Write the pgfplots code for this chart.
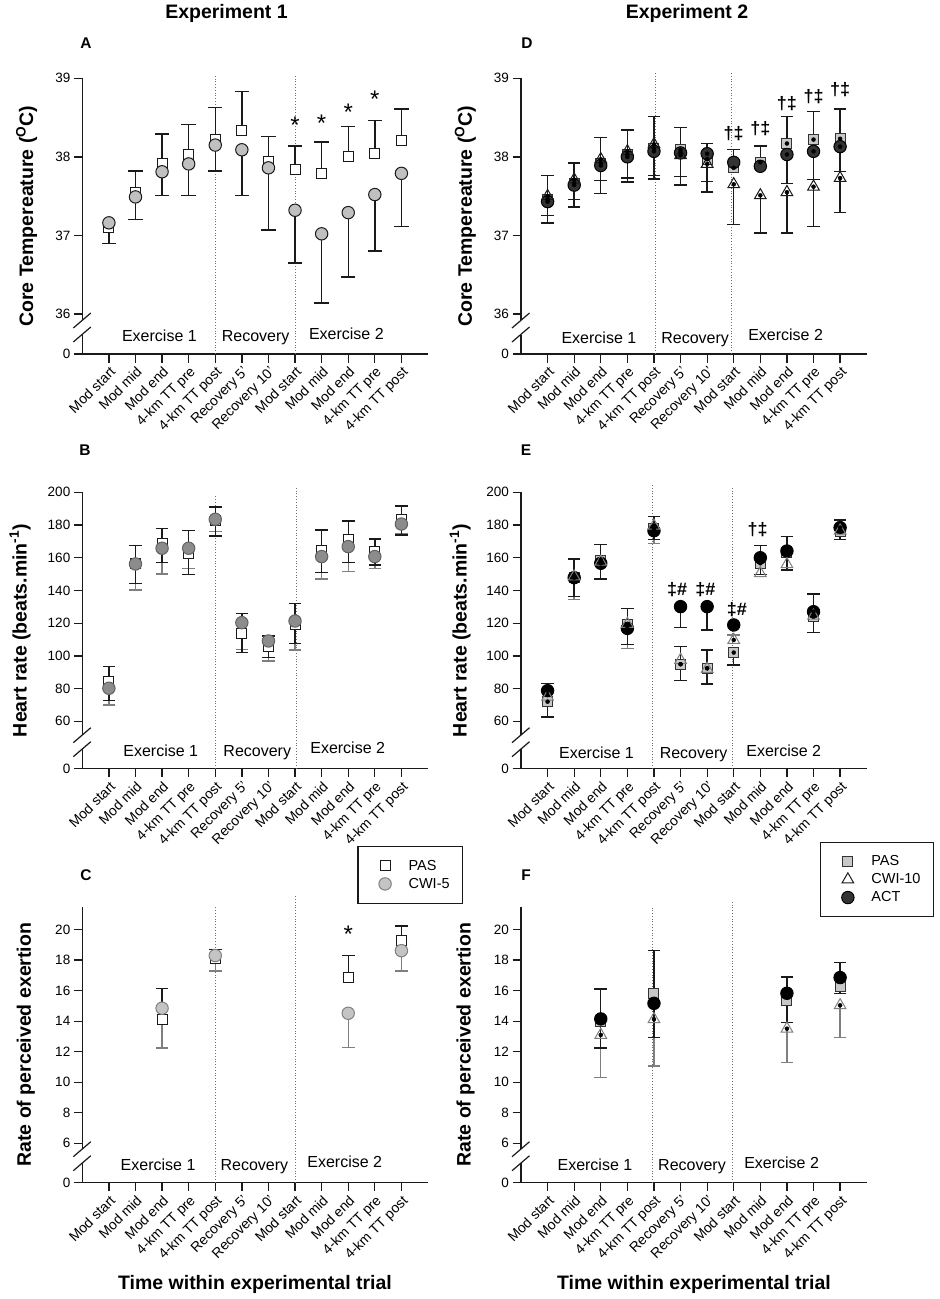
\documentclass[border=0pt]{standalone}
\usepackage{fontspec}
\setmainfont{Liberation Sans}
\usepackage{pgfplots}
\pgfplotsset{compat=1.18}

\definecolor{axcol}{HTML}{1A1A1A}
\definecolor{cwiAf}{HTML}{C0C0C0}
\definecolor{cwiBf}{HTML}{8C8C8C}
\definecolor{cwiCf}{HTML}{C4C4C4}
\definecolor{pasDf}{HTML}{C8C8C8}
\definecolor{actDf}{HTML}{333333}
\definecolor{ebgray}{HTML}{7F7F7F}
\definecolor{dotcol}{HTML}{6E6E6E}

\newcommand\tickfont{\fontsize{13.5}{15}\selectfont}
\newcommand\xtickfont{\fontsize{14}{16}\selectfont}
\newcommand\labfont{\bfseries\fontsize{19.5}{22}\selectfont}
\newcommand\secfont{\fontsize{16}{18}\selectfont}
\newcommand\letfont{\bfseries\fontsize{15.5}{17}\selectfont}
\newcommand\legfont{\fontsize{14.5}{16}\selectfont}
\newcommand\symfont{\bfseries\fontsize{18}{20}\selectfont}
\newcommand\astfont{\fontsize{24}{26}\selectfont}

\tikzset{dotline/.style={draw=dotcol, line width=1pt, dash pattern=on 1pt off 1.8pt}}

\pgfplotsset{
  panel/.style={
    scale only axis, width=345.7pt, xmin=-1, xmax=12, anchor=south west,
    axis x line=bottom, axis y line=left,
    axis line style={-, line width=1.3pt, draw=axcol},
    x axis line style={-}, y axis line style={-},
    tick align=outside, major tick length=8.5pt,
    tick style={line width=1.3pt, draw=axcol},
    xtick={0,...,11},
    xticklabels={Mod start,Mod mid,Mod end,4-km TT pre,4-km TT post,Recovery 5',Recovery 10',Mod start,Mod mid,Mod end,4-km TT pre,4-km TT post},
    xticklabel style={rotate=45, anchor=north east, font=\xtickfont, inner sep=2pt},
    yticklabel style={font=\tickfont},
    /pgf/number format/assume math mode=true,
    clip=false,
    ylabel style={at={(axis description cs:-0.161,0.5)}, anchor=center, font=\labfont},
    legend image code/.code={\path[draw=none,fill=none] (0pt,-5pt) rectangle (26pt,5pt); \draw[##1] plot coordinates {(16pt,0pt)};},
  },
  ebup/.style 2 args={only marks, mark=none, forget plot, error bars/.cd, y dir=plus, y explicit,
     error bar style={line width=1.4pt, draw=#1, solid},
     error mark options={rotate=90, mark size=#2, line width=1.4pt, draw=#1, solid}},
  ebdn/.style 2 args={only marks, mark=none, forget plot, error bars/.cd, y dir=minus, y explicit,
     error bar style={line width=1.4pt, draw=#1, solid},
     error mark options={rotate=90, mark size=#2, line width=1.4pt, draw=#1, solid}},
  pasA/.style={only marks, mark=square*, mark size=5pt, mark options={fill=white, draw=axcol, line width=1pt, solid}},
  cwiA/.style={only marks, mark=*, mark size=6.2pt, mark options={fill=cwiAf, draw=axcol, line width=1pt, solid}},
  cwiB/.style={only marks, mark=*, mark size=6.2pt, mark options={fill=cwiBf, draw=cwiBf!70!black, line width=1pt, solid}},
  cwiC/.style={only marks, mark=*, mark size=6.2pt, mark options={fill=cwiCf, draw=gray, line width=1pt, solid}},
  pasD/.style={only marks, mark=square*, mark size=5pt, mark options={fill=pasDf, draw=actDf, line width=1pt, solid}},
  cwiD/.style={only marks, mark=triangle, mark size=6.7pt, mark options={draw=axcol, line width=1pt, solid}},
  cwiE/.style={only marks, mark=triangle, mark size=6.7pt, mark options={draw=gray, line width=1pt, solid}},
  actD/.style={only marks, mark=*, mark size=6.2pt, mark options={fill=actDf, draw=black, line width=1pt, solid}},
  actE/.style={only marks, mark=*, mark size=6.2pt, mark options={fill=black, draw=black, line width=1pt, solid}},
  legC/.style={legend style={anchor=north east, draw=axcol, line width=1.2pt, fill=white,
     inner xsep=11pt, inner ysep=11.5pt, row sep=2.4pt, column sep=11.5pt, font=\legfont, cells={anchor=west}}},
}

\newcommand\brk[1]{%
  \fill[white] ([shift={(-3pt,19.5pt)}]#1.south west) rectangle ([shift={(3pt,33.8pt)}]#1.south west);
  \draw[axcol, line width=1.2pt] ([shift={(-9pt,26pt)}]#1.south west) -- ([shift={(8.5pt,41pt)}]#1.south west);
  \draw[axcol, line width=1.2pt] ([shift={(-9pt,12pt)}]#1.south west) -- ([shift={(8.5pt,27pt)}]#1.south west);
}

\begin{document}
\begin{tikzpicture}
\path[use as bounding box] (0pt,0pt) rectangle (940pt,-1299pt);
\fill[white] (0pt,0pt) rectangle (940pt,-1299pt);

% titles and letters
\node[font=\labfont] at (226.5pt,-13pt) {Experiment 1};
\node[font=\labfont] at (687pt,-13pt) {Experiment 2};
\node[font=\letfont] at (86pt,-43pt) {A};
\node[font=\letfont] at (527pt,-43pt) {D};
\node[font=\letfont] at (85pt,-450pt) {B};
\node[font=\letfont] at (526pt,-450pt) {E};
\node[font=\letfont] at (86pt,-875pt) {C};
\node[font=\letfont] at (526pt,-875pt) {F};
\node[font=\labfont] at (255pt,-1284pt) {Time within experimental trial};
\node[font=\labfont] at (694pt,-1284pt) {Time within experimental trial};

% ================= A =================
\begin{axis}[panel, name=A, at={(82.3pt,-354pt)}, height=275.7pt,
  ymin=35.49, ymax=39, ytick={35.49,36,37,38,39}, yticklabels={0,36,37,38,39},
  ylabel={Core Tempereature (\textsuperscript{O}C)}]
\draw[dotline] (axis cs:4,35.49) -- (axis cs:4,39.03);
\draw[dotline] (axis cs:7,35.49) -- (axis cs:7,39.03);
\addplot[ebup={axcol}{7.2pt}] coordinates {(1,37.54) +- (0,0.28) (2,37.91) +- (0,0.38) (3,38.03) +- (0,0.38) (4,38.22) +- (0,0.41) (5,38.34) +- (0,0.49) (6,37.94) +- (0,0.32) (7,37.84) +- (0,0.30) (8,37.79) +- (0,0.40) (9,38.00) +- (0,0.39) (10,38.04) +- (0,0.42) (11,38.21) +- (0,0.40)};
\addplot[ebdn={axcol}{7.2pt}] coordinates {(0,37.16) +- (0,0.26) (1,37.49) +- (0,0.29) (2,37.81) +- (0,0.30) (3,37.91) +- (0,0.40) (4,38.15) +- (0,0.33) (5,38.09) +- (0,0.58) (6,37.86) +- (0,0.79) (7,37.32) +- (0,0.67) (8,37.02) +- (0,0.88) (9,37.29) +- (0,0.82) (10,37.52) +- (0,0.72) (11,37.79) +- (0,0.68)};
\addplot[pasA] coordinates {(0,37.10) (1,37.54) (2,37.91) (3,38.03) (4,38.22) (5,38.34) (6,37.94) (7,37.84) (8,37.79) (9,38.00) (10,38.04) (11,38.21)};
\addplot[cwiA] coordinates {(0,37.16) (1,37.49) (2,37.81) (3,37.91) (4,38.15) (5,38.09) (6,37.86) (7,37.32) (8,37.02) (9,37.29) (10,37.52) (11,37.79)};
\node[font=\secfont, anchor=base] at (axis cs:1.9,35.65) {Exercise 1};
\node[font=\secfont, anchor=base] at (axis cs:5.52,35.65) {Recovery};
\node[font=\secfont, anchor=base] at (axis cs:8.93,35.68) {Exercise 2};
\node[font=\astfont, anchor=north, inner sep=0pt] at (axis cs:7,38.51) {*};
\node[font=\astfont, anchor=north, inner sep=0pt] at (axis cs:8,38.54) {*};
\node[font=\astfont, anchor=north, inner sep=0pt] at (axis cs:9,38.67) {*};
\node[font=\astfont, anchor=north, inner sep=0pt] at (axis cs:10,38.84) {*};
\end{axis}
\brk{A}

% ================= D =================
\begin{axis}[panel, name=D, at={(521pt,-354pt)}, height=275.7pt,
  ymin=35.49, ymax=39, ytick={35.49,36,37,38,39}, yticklabels={0,36,37,38,39},
  ylabel={Core Tempereature (\textsuperscript{O}C)}]
\draw[dotline] (axis cs:4.07,35.49) -- (axis cs:4.07,39.07);
\draw[dotline] (axis cs:6.9,35.49) -- (axis cs:6.9,39.07);
\addplot[pasD] coordinates {(0,37.46) (1,37.66) (2,37.92) (3,38.03) (4,38.11) (5,38.09) (6,37.97) (7,37.86) (8,37.93) (9,38.17) (10,38.22) (11,38.23)};
\addplot[actD] coordinates {(0,37.43) (1,37.64) (2,37.89) (3,38.00) (4,38.07) (5,38.05) (6,38.04) (7,37.93) (8,37.88) (9,38.03) (10,38.07) (11,38.13)};
\addplot[cwiD] coordinates {(0,37.50) (1,37.71) (2,37.97) (3,38.07) (4,38.16) (5,38.02) (6,37.91) (7,37.65) (8,37.51) (9,37.55) (10,37.62) (11,37.73)};
\addplot[ebup={axcol}{6.3pt}] coordinates {(0,37.46) +- (0,0.30) (1,37.66) +- (0,0.26) (2,37.92) +- (0,0.33) (3,38.03) +- (0,0.31) (4,38.11) +- (0,0.40) (5,38.09) +- (0,0.28) (6,37.97) +- (0,0.20) (7,37.86) +- (0,0.23) (8,37.93) +- (0,0.21) (9,38.17) +- (0,0.34) (10,38.22) +- (0,0.36) (11,38.23) +- (0,0.38)};
\addplot[ebdn={axcol}{6.3pt}] coordinates {(0,37.43) +- (0,0.18) (1,37.64) +- (0,0.18) (2,37.89) +- (0,0.19) (3,38.00) +- (0,0.27) (4,38.07) +- (0,0.31) (5,38.05) +- (0,0.30) (6,38.04) +- (0,0.35) (9,38.03) +- (0,0.37) (10,38.07) +- (0,0.36) (11,38.13) +- (0,0.32)};
\addplot[ebdn={axcol}{6.3pt}] coordinates {(0,37.50) +- (0,0.34) (1,37.71) +- (0,0.35) (2,37.97) +- (0,0.44) (3,38.07) +- (0,0.39) (4,38.16) +- (0,0.44) (5,38.02) +- (0,0.38) (6,37.91) +- (0,0.36) (7,37.65) +- (0,0.51) (8,37.51) +- (0,0.48) (9,37.55) +- (0,0.52) (10,37.62) +- (0,0.51) (11,37.73) +- (0,0.44)};
\node[font=\secfont, anchor=base] at (axis cs:1.93,35.625) {Exercise 1};
\node[font=\secfont, anchor=base] at (axis cs:5.55,35.625) {Recovery};
\node[font=\secfont, anchor=base] at (axis cs:8.95,35.66) {Exercise 2};
\node[font=\symfont, inner sep=0pt] at (axis cs:7,38.30) {†‡};
\node[font=\symfont, inner sep=0pt] at (axis cs:8,38.36) {†‡};
\node[font=\symfont, inner sep=0pt] at (axis cs:9,38.68) {†‡};
\node[font=\symfont, inner sep=0pt] at (axis cs:10,38.77) {†‡};
\node[font=\symfont, inner sep=0pt] at (axis cs:11,38.85) {†‡};
\end{axis}
\brk{D}

% ================= B =================
\begin{axis}[panel, name=B, at={(82.3pt,-768.7pt)}, height=276.4pt,
  ymin=31, ymax=200, ytick={31,60,80,100,120,140,160,180,200}, yticklabels={0,60,80,100,120,140,160,180,200},
  ylabel={Heart rate (beats.min\textsuperscript{-1})}, ylabel style={at={(axis description cs:-0.18,0.5)}}]
\draw[dotline] (axis cs:4,31) -- (axis cs:4,198.3);
\draw[dotline] (axis cs:7.05,31) -- (axis cs:7.05,202.4);
\addplot[ebup={axcol}{6.3pt}] coordinates {(0,84.2) +- (0,9.2) (1,156.6) +- (0,10.8) (2,168.8) +- (0,9.2) (3,162.7) +- (0,13.9) (4,182.7) +- (0,8.3) (5,113.8) +- (0,12.2) (6,105.6) +- (0,6.6) (7,118.9) +- (0,13.2) (8,164.7) +- (0,12.3) (9,170.9) +- (0,11.6) (10,163.7) +- (0,7.8) (11,183.1) +- (0,8.5)};
\addplot[ebdn={ebgray}{6.3pt}] coordinates {(0,80.2) +- (0,10.2) (1,156.2) +- (0,15.9) (2,165.8) +- (0,15.7) (3,165.8) +- (0,12.3) (4,183.5) +- (0,7.5) (5,120.3) +- (0,16.3) (6,109.1) +- (0,12.2) (7,121.3) +- (0,17.7) (8,160.7) +- (0,13.7) (9,166.8) +- (0,15.3) (10,160.7) +- (0,7.2) (11,180.6) +- (0,6.1)};
\addplot[ebdn={axcol}{6.3pt}] coordinates {(0,84.2) +- (0,11.6) (1,156.6) +- (0,12.2) (2,168.8) +- (0,11.8) (3,162.7) +- (0,12.8) (4,182.7) +- (0,9.4) (5,113.8) +- (0,11.8) (6,105.6) +- (0,6.7) (7,118.9) +- (0,11.2) (8,164.7) +- (0,13.8) (9,170.9) +- (0,13.7) (10,163.7) +- (0,8.1) (11,183.1) +- (0,9.2)};
\addplot[pasA] coordinates {(0,84.2) (1,156.6) (2,168.8) (3,162.7) (4,182.7) (5,113.8) (6,105.6) (7,118.9) (8,164.7) (9,170.9) (10,163.7) (11,183.1)};
\addplot[cwiB] coordinates {(0,80.2) (1,156.2) (2,165.8) (3,165.8) (4,183.5) (5,120.3) (6,109.1) (7,121.3) (8,160.7) (9,166.8) (10,160.7) (11,180.6)};
\node[font=\secfont, anchor=base] at (axis cs:1.95,38.5) {Exercise 1};
\node[font=\secfont, anchor=base] at (axis cs:5.58,38.5) {Recovery};
\node[font=\secfont, anchor=base] at (axis cs:8.98,40.0) {Exercise 2};
\end{axis}
\brk{B}

% ================= E =================
\begin{axis}[panel, name=E, at={(521pt,-768.7pt)}, height=276.4pt,
  ymin=31, ymax=200, ytick={31,60,80,100,120,140,160,180,200}, yticklabels={0,60,80,100,120,140,160,180,200},
  ylabel={Heart rate (beats.min\textsuperscript{-1})}, ylabel style={at={(axis description cs:-0.176,0.5)}}]
\draw[dotline] (axis cs:3.94,31) -- (axis cs:3.94,205.5);
\draw[dotline] (axis cs:6.95,31) -- (axis cs:6.95,203.4);
\addplot[pasD] coordinates {(0,72.0) (1,148.0) (2,158.6) (3,118.9) (4,178.0) (5,94.9) (6,92.4) (7,102.0) (8,156.6) (9,163.5) (10,124.0) (11,176.0)};
\addplot[actE] coordinates {(0,78.7) (1,147.8) (2,156.6) (3,116.8) (4,176.5) (5,130.1) (6,130.1) (7,118.9) (8,160.0) (9,164.1) (10,127.0) (11,178.4)};
\addplot[cwiE] coordinates {(0,75.0) (1,148.5) (2,157.5) (3,119.5) (4,179.5) (5,97.5) (6,92.0) (7,109.7) (8,150.5) (9,156.0) (10,124.5) (11,176.5)};
\addplot[ebdn={ebgray}{6.3pt}] coordinates {(1,148.5) +- (0,13.9) (3,119.5) +- (0,14.9) (4,179.5) +- (0,10.7)};
\addplot[ebup={ebgray}{6.3pt}] coordinates {(7,109.7) +- (0,3.1)};
\addplot[ebup={axcol}{6.3pt}] coordinates {(0,78.7) +- (0,4.5) (1,147.8) +- (0,11.4) (2,156.6) +- (0,11.6) (3,116.8) +- (0,12.3) (4,176.5) +- (0,8.6) (8,160.0) +- (0,7.4) (9,164.1) +- (0,8.8) (10,127.0) +- (0,10.8) (11,178.4) +- (0,4.7)};
\addplot[ebdn={axcol}{6.3pt}] coordinates {(5,130.1) +- (0,12.6) (6,130.1) +- (0,14.3)};
\addplot[ebup={axcol}{6.3pt}] coordinates {(5,94.9) +- (0,10.7) (6,92.4) +- (0,11.2)};
\addplot[ebdn={axcol}{6.3pt}] coordinates {(0,72.0) +- (0,9.5) (1,148.0) +- (0,11.8) (2,158.6) +- (0,11.6) (3,118.9) +- (0,11.9) (4,178.0) +- (0,6.7) (5,94.9) +- (0,10.1) (6,92.4) +- (0,9.6) (7,102.0) +- (0,7.5) (8,156.6) +- (0,6.7) (9,163.5) +- (0,11.0) (10,124.0) +- (0,9.8) (11,176.0) +- (0,4.7)};
\node[font=\secfont, anchor=base] at (axis cs:1.84,37.3) {Exercise 1};
\node[font=\secfont, anchor=base] at (axis cs:5.49,37.3) {Recovery};
\node[font=\secfont, anchor=base] at (axis cs:8.88,38.5) {Exercise 2};
\node[font=\symfont, inner sep=0pt] at (axis cs:4.87,140.7) {‡\#};
\node[font=\symfont, inner sep=0pt] at (axis cs:5.93,140.7) {‡\#};
\node[font=\symfont, inner sep=0pt] at (axis cs:7.12,128.5) {‡\#};
\node[font=\symfont, inner sep=0pt] at (axis cs:7.9,177.4) {†‡};
\end{axis}
\brk{E}

% ================= C =================
\begin{axis}[panel, name=C, at={(82.3pt,-1182.7pt)}, height=276pt,
  ymin=3.42, ymax=21.5, ytick={3.42,6,8,10,12,14,16,18,20}, yticklabels={0,6,8,10,12,14,16,18,20},
  ylabel={Rate of perceived exertion}, ylabel style={at={(axis description cs:-0.163,0.5)}},
  legC, legend style={at={(axis description cs:1.102,1.22)}}]
\draw[dotline] (axis cs:4,3.42) -- (axis cs:4,21.5);
\draw[dotline] (axis cs:7,3.42) -- (axis cs:7,22.27);
\addplot[ebup={axcol}{6.3pt}] coordinates {(2,14.13) +- (0,2.00) (4,18.12) +- (0,0.59) (9,16.86) +- (0,1.44) (11,19.26) +- (0,0.98)};
\addplot[ebdn={ebgray}{6.3pt}] coordinates {(2,14.85) +- (0,2.60) (4,18.30) +- (0,1.01) (9,14.52) +- (0,2.23) (11,18.62) +- (0,1.33)};
\addplot[pasA] coordinates {(2,14.13) (4,18.12) (9,16.86) (11,19.26)};
\addlegendentry{PAS}
\addplot[cwiC] coordinates {(2,14.85) (4,18.30) (9,14.52) (11,18.62)};
\addlegendentry{CWI-5}
\node[font=\secfont, anchor=base] at (axis cs:1.85,4.23) {Exercise 1};
\node[font=\secfont, anchor=base] at (axis cs:5.47,4.23) {Recovery};
\node[font=\secfont, anchor=base] at (axis cs:8.87,4.39) {Exercise 2};
\node[font=\astfont, anchor=north, inner sep=0pt] at (axis cs:9,20.24) {*};
\end{axis}
\brk{C}

% ================= F =================
\begin{axis}[panel, name=F, at={(521pt,-1182.7pt)}, height=276pt,
  ymin=3.42, ymax=21.5, ytick={3.42,6,8,10,12,14,16,18,20}, yticklabels={0,6,8,10,12,14,16,18,20},
  ylabel={Rate of perceived exertion}, ylabel style={at={(axis description cs:-0.16,0.5)}},
  legC, legend style={at={(axis description cs:1.195,1.236)}}]
\draw[dotline] (axis cs:3.94,3.42) -- (axis cs:3.94,21.44);
\draw[dotline] (axis cs:6.97,3.42) -- (axis cs:6.97,21.87);
\addplot[pasD, forget plot] coordinates {(2,13.97) (4,15.79) (9,15.33) (11,16.27)};
\addplot[actE, forget plot] coordinates {(2,14.15) (4,15.17) (9,15.83) (11,16.86)};
\addplot[cwiE, forget plot] coordinates {(2,13.10) (4,14.13) (9,13.51) (11,15.04)};
\addplot[ebdn={ebgray}{6.3pt}] coordinates {(2,13.10) +- (0,2.80) (4,14.13) +- (0,3.06) (9,13.51) +- (0,2.22) (11,15.04) +- (0,2.12)};
\addplot[ebup={axcol}{6.3pt}] coordinates {(2,14.15) +- (0,1.96) (4,15.17) +- (0,3.45) (9,15.83) +- (0,1.07) (11,16.86) +- (0,1.00)};
\addplot[ebdn={axcol}{6.3pt}] coordinates {(2,14.15) +- (0,1.90) (4,15.17) +- (0,2.22) (9,15.83) +- (0,1.92) (11,16.86) +- (0,1.06)};
\addlegendimage{pasD}
\addlegendentry{PAS}
\addlegendimage{cwiD}
\addlegendentry{CWI-10}
\addlegendimage{actD}
\addlegendentry{ACT}
\node[font=\secfont, anchor=base] at (axis cs:1.78,4.21) {Exercise 1};
\node[font=\secfont, anchor=base] at (axis cs:5.43,4.21) {Recovery};
\node[font=\secfont, anchor=base] at (axis cs:8.8,4.36) {Exercise 2};
\end{axis}
\brk{F}

\end{tikzpicture}
\end{document}
